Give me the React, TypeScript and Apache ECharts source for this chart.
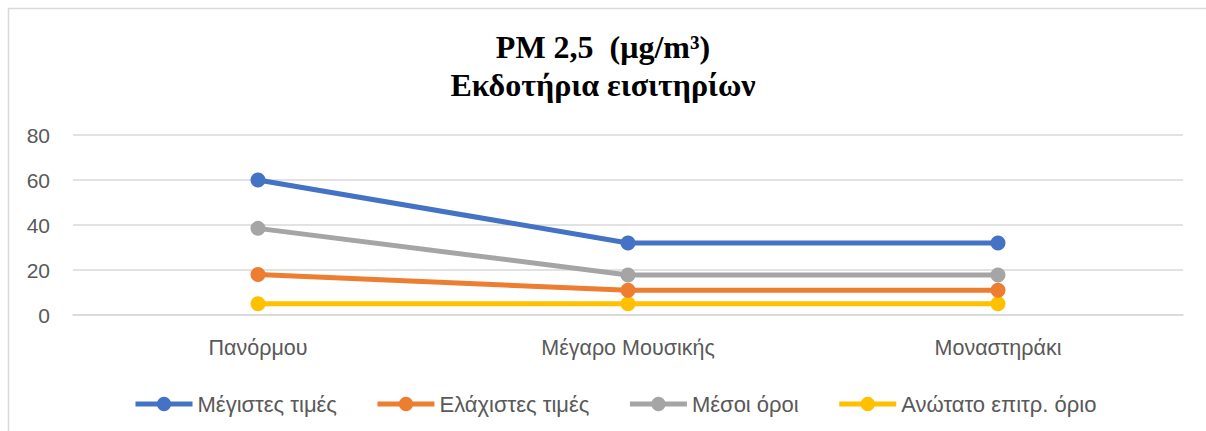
import React, { useEffect, useRef } from "react";
import * as echarts from "echarts";

const categories = ["Πανόρμου", "Μέγαρο Μουσικής", "Μοναστηράκι"];
const maxValues = [60, 32, 32];
const minValues = [18, 11, 11];
const meanValues = [38.5, 17.8, 17.8];
const limitValues = [5, 5, 5];
const seriesNames = ["Μέγιστες τιμές", "Ελάχιστες τιμές", "Μέσοι όροι", "Ανώτατο επιτρ. όριο"];
const colors = ["#4472C4", "#ED7D31", "#A5A5A5", "#FFC000"];

export default function App() {
  const ref = useRef<HTMLDivElement>(null);
  useEffect(() => {
    if (!ref.current) return;
    const chart = echarts.init(ref.current, null, { renderer: "svg" });
    const data = [maxValues, minValues, meanValues, limitValues];
    chart.setOption({
      animation: false,
      backgroundColor: "#ffffff",
      title: {
        text: "PM 2,5  (μg/m³)\nΕκδοτήρια εισιτηρίων",
        left: "center",
        top: 23,
        textStyle: {
          fontFamily: "Liberation Serif",
          fontWeight: "bold",
          fontSize: 32,
          lineHeight: 38,
          color: "#000000",
        },
      },
      graphic: [
        {
          type: "rect",
          shape: { x: 8.5, y: 8.5, width: 1220, height: 440 },
          style: { fill: "none", stroke: "#D9D9D9", lineWidth: 1.5 },
          silent: true,
        },
      ],
      legend: {
        left: 128,
        top: 388,
        itemWidth: 57,
        itemHeight: 18,
        itemGap: 38,
        lineStyle: { width: 5 },
        textStyle: { fontFamily: "Liberation Sans", fontSize: 22, color: "#595959" },
        data: seriesNames,
      },
      grid: { left: 73, right: 23, top: 135, bottom: 116 },
      xAxis: {
        type: "category",
        data: categories,
        boundaryGap: true,
        axisLine: { show: true, lineStyle: { color: "#D9D9D9", width: 1.5 } },
        axisTick: { show: false },
        axisLabel: { fontFamily: "Liberation Sans", fontSize: 21.5, color: "#595959", margin: 22 },
      },
      yAxis: {
        type: "value",
        min: 0,
        max: 80,
        interval: 20,
        axisLine: { show: false },
        axisTick: { show: false },
        splitLine: { lineStyle: { color: "#D9D9D9", width: 1.5 } },
        axisLabel: { fontFamily: "Liberation Sans", fontSize: 21, color: "#595959", margin: 23 },
      },
      series: seriesNames.map((name, i) => ({
        name,
        type: "line",
        data: data[i],
        color: colors[i],
        symbol: "circle",
        symbolSize: 15,
        lineStyle: { width: 5, color: colors[i] },
        itemStyle: { color: colors[i] },
        z: 10 - i,
      })),
    });
    return () => chart.dispose();
  }, []);
  return <div ref={ref} style={{ position: "absolute", left: 0, top: 0, width: 1206, height: 431 }} />;
}
